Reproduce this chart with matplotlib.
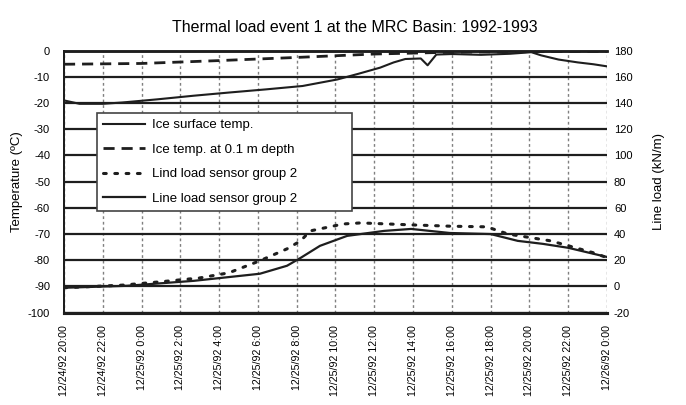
import matplotlib
matplotlib.use("Agg")
import matplotlib.pyplot as plt
import numpy as np

plt.rcParams["font.family"] = ["Liberation Sans", "DejaVu Sans"]
plt.rcParams["axes.unicode_minus"] = False

# hours after 12/24/92 20:00
tick_labels = [
    "12/24/92 20:00", "12/24/92 22:00", "12/25/92 0:00", "12/25/92 2:00",
    "12/25/92 4:00", "12/25/92 6:00", "12/25/92 8:00", "12/25/92 10:00",
    "12/25/92 12:00", "12/25/92 14:00", "12/25/92 16:00", "12/25/92 18:00",
    "12/25/92 20:00", "12/25/92 22:00", "12/26/92 0:00",
]

# ice surface temperature (C)
surf_hours = [0, 0.8, 2, 3, 4.8, 6.7, 8.5, 10.4, 12.3, 14.1, 15.2, 16.3, 17.0,
              17.6, 18.4, 18.75, 19.2, 20, 21.5, 23, 24.1, 24.6, 25.5, 26.5,
              27.3, 28]
surf_temp = [-19, -20.3, -20.3, -19.8, -18.6, -17.2, -16, -14.8, -13.5, -11,
             -8.8, -6.5, -4.5, -3.2, -3, -5.6, -1.5, -1.3, -1.6, -1.2, -0.6,
             -1.8, -3.4, -4.5, -5.2, -6]

# ice temperature at 0.1 m depth (C)
depth_hours = [0, 4, 8, 12, 16, 20, 24, 28]
depth_temp = [-5.2, -4.9, -3.8, -2.6, -1.3, -0.6, -0.4, -0.3]

# line load sensor group 2, dotted trace (kN/m)
lind_hours = [0, 3, 5, 7, 8.5, 10.1, 11.5, 12.2, 12.7, 14.4, 15.3, 17.9,
              19.9, 21.8, 22.9, 25.1, 27.3, 28]
lind_load = [-1, 1, 3.6, 6.5, 10.4, 19.6, 28.7, 34.8, 42.4, 47.7, 48.5, 47,
             46, 45.5, 40, 34.8, 25.7, 22]

# line load sensor group 2, solid trace (kN/m)
line_hours = [0, 3.25, 6.7, 10.1, 11.5, 12.2, 13.2, 14.6, 16.5, 17.9, 19.9,
              22.0, 23.4, 24.7, 26.0, 28]
line_load = [-1, 0.5, 4.3, 9.7, 15.8, 21.8, 31, 38.6, 42.4, 43.9, 40.8, 40,
             34.8, 32.5, 29.5, 22.5]

ink = "#1e1e1e"

fig = plt.figure(figsize=(6.86, 4.05), dpi=100)
ax = fig.add_axes([0.0933, 0.228, 0.7915, 0.647])
ax2 = ax.twinx()

h1, = ax.plot(surf_hours, surf_temp, color=ink, lw=1.5,
              label="Ice surface temp.")
h2, = ax.plot(depth_hours, depth_temp, color=ink, lw=2.0,
              linestyle=(0, (4, 2.5)), label="Ice temp. at 0.1 m depth")
h3, = ax2.plot(lind_hours, lind_load, color=ink, lw=2.2,
               linestyle=(0, (0.9, 2.8)), dash_capstyle="round",
               label="Lind load sensor group 2")
h4, = ax2.plot(line_hours, line_load, color=ink, lw=1.6,
               label="Line load sensor group 2")

ticks = np.arange(len(tick_labels)) * 2
ax.set_xlim(ticks[0], ticks[-1])
ax.set_xticks(ticks)
ax.set_xticklabels(tick_labels, rotation=90, fontsize=7.7)

ax.set_ylim(-100, 0)
ax.set_yticks(np.arange(-100, 1, 10))
ax2.set_ylim(-20, 180)
ax2.set_yticks(np.arange(-20, 181, 20))

ax.tick_params(axis="x", length=0, pad=9)
ax.tick_params(axis="y", length=0, pad=10, labelsize=8)
ax2.tick_params(axis="y", length=0, pad=5, labelsize=8)

ax.grid(axis="y", color=ink, lw=1.6)
ax.grid(axis="x", color="#808080", lw=1.0, linestyle=(0, (2, 2)))
ax.set_axisbelow(True)

for a in (ax, ax2):
    for side in ("left", "right", "top", "bottom"):
        a.spines[side].set_color(ink)
    a.spines["top"].set_linewidth(1.8)
    a.spines["bottom"].set_linewidth(2.2)
    a.spines["left"].set_linewidth(1.4)
    a.spines["right"].set_visible(False)

ax.set_ylabel("Temperature (ºC)", fontsize=9.5)
ax.yaxis.set_label_coords(-0.0764, 0.5)
ax2.set_ylabel("Line load (kN/m)", fontsize=9.5)
ax2.yaxis.set_label_coords(1.0856, 0.5)
fig.text(0.5175, 0.9217, "Thermal load event 1 at the MRC Basin: 1992-1993",
         fontsize=11.5, ha="center", va="baseline")

leg = ax2.legend(handles=[h1, h2, h3, h4], loc="upper left",
                 bbox_to_anchor=(0.061, 0.762, 0.47, 0.0), mode="expand",
                 fontsize=9.5, frameon=True, fancybox=False, framealpha=1,
                 edgecolor="#444444", borderpad=0.45, labelspacing=0.93,
                 handlelength=3.2, handletextpad=0.5, borderaxespad=0)
leg.get_frame().set_linewidth(1.2)

fig.savefig("out.png", dpi=100)
